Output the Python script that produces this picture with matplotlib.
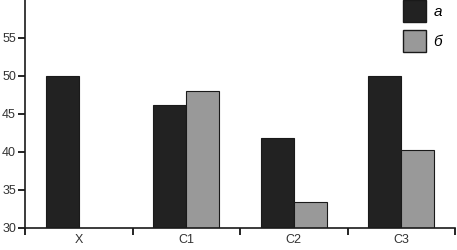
import numpy as np
import matplotlib
matplotlib.use("Agg")
import matplotlib.pyplot as plt
from matplotlib.patches import Patch

categories = ["X", "C1", "C2", "C3"]
series_a = [50, 46.2, 41.9, 50]
series_b = [np.nan, 48, 33.4, 40.2]
legend_labels = ["а", "б"]
yticks = [30, 35, 40, 45, 50, 55]

plt.rcParams['font.family'] = ['Liberation Sans', 'DejaVu Sans']

fig = plt.figure(figsize=(4.57, 2.5), dpi=100)
ax = fig.add_axes([25/457, 22/250, 430/457, 228/250])

x = np.arange(len(categories))
w = 0.307
ax.bar(x - w/2, series_a, w, color="#222222", edgecolor="#1a1a1a", linewidth=0.8)
ax.bar(x + w/2, series_b, w, color="#999999", edgecolor="#1a1a1a", linewidth=0.8)

ax.set_xlim(-0.5, len(categories) - 0.5)
ax.set_ylim(30, 60)
ax.set_yticks(yticks)
ax.set_xticks(x)
ax.set_xticklabels(categories)
ax.set_xticks(np.arange(len(categories) + 1) - 0.5, minor=True)

for s in ["top", "right"]:
    ax.spines[s].set_visible(False)
for s in ["left", "bottom"]:
    ax.spines[s].set_linewidth(1.2)
    ax.spines[s].set_color("#1a1a1a")

ax.tick_params(axis="y", direction="out", length=5, width=1.2, labelsize=9, labelcolor="#333333", pad=1.5)
ax.tick_params(axis="x", which="major", length=0, labelsize=9, labelcolor="#333333", pad=4)
ax.tick_params(axis="x", which="minor", direction="out", length=5, width=1.2)

handles = [Patch(facecolor="#222222", edgecolor="#1a1a1a"),
           Patch(facecolor="#999999", edgecolor="#1a1a1a")]
leg = ax.legend(handles, legend_labels, loc="upper left", bbox_to_anchor=(0.879, 1.0),
                frameon=False, borderpad=0, borderaxespad=0,
                handlelength=1.5, handleheight=1.83, handletextpad=0.5,
                labelspacing=0.55, prop={"style": "italic", "size": 11})

fig.savefig("out.png", dpi=100)
